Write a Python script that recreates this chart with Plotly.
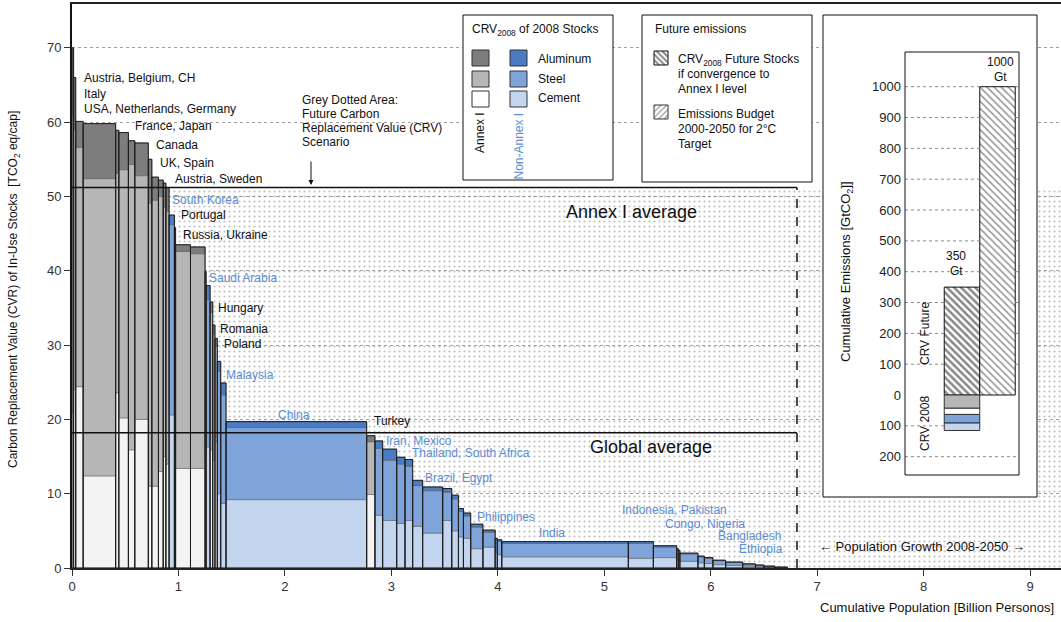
import numpy as np
import plotly.graph_objects as go

# ---------------------------------------------------------------- data
countries = ["Luxembourg", "Belgium, CH", "Italy", "USA", "Netherlands", "Germany", "France",
             "Japan", "Canada", "UK", "Spain", "Austria", "Sweden", "South Korea", "Portugal",
             "Russia", "Ukraine", "Czech Republic", "Saudi Arabia", "Hungary", "Romania", "Poland",
             "Argentina", "Malaysia", "China", "Turkey", "Iran", "Mexico", "Thailand",
             "South Africa", "Colombia", "Brazil", "Egypt", "Algeria", "Peru", "Morocco",
             "Philippines", "Vietnam", "Sri Lanka", "Uzbekistan", "India", "Indonesia",
             "Pakistan", "Kenya", "Sudan", "Nigeria", "Myanmar", "Tanzania", "Congo",
             "Bangladesh", "Uganda", "Ethiopia", "Nepal", "Others"]
annex_I = [1, 1, 1, 1, 1, 1, 1, 1, 1, 1, 1, 1, 1, 0, 1, 1, 1, 1, 0, 1, 1, 1, 0, 0, 0, 1,
           0, 0, 0, 0, 0, 0, 0, 0, 0, 0, 0, 0, 0, 0, 0, 0, 0, 0, 0, 0, 0, 0, 0, 0, 0, 0, 0, 0]
population = [0.015, 0.02, 0.07, 0.305, 0.03, 0.09, 0.06, 0.127, 0.033, 0.062, 0.045, 0.025,
              0.03, 0.05, 0.011, 0.14, 0.137, 0.01, 0.037, 0.025, 0.021, 0.022, 0.032, 0.05,
              1.321, 0.078, 0.072, 0.132, 0.078, 0.072, 0.094, 0.188, 0.085, 0.063, 0.047,
              0.068, 0.115, 0.115, 0.02, 0.042, 1.189, 0.235, 0.219, 0.015, 0.015, 0.17, 0.06,
              0.08, 0.12, 0.16, 0.12, 0.08, 0.10, 0.12]
cement = [21, 24, 24.4, 12.4, 23.6, 20.2, 15.9, 20.0, 11.0, 11.0, 13.0, 15.0, 14.0, 20.6, 17.0,
          13.4, 13.4, 15.0, 16.3, 15.9, 14.5, 17.0, 10.0, 8.7, 9.2, 9.9, 7.1, 6.4, 6.0, 6.4, 5.6,
          4.7, 6.4, 5.0, 4.2, 4.0, 2.6, 2.8, 2.0, 1.8, 1.5, 1.3, 1.4, 1.2, 1.1, 0.9, 0.7, 0.6,
          0.45, 0.35, 0.25, 0.18, 0.11, 0.05]
steel = [40, 35, 32.2, 40.0, 29.5, 33.4, 38.4, 32.8, 38.1, 38.5, 37.0, 33.6, 34.0, 25.6, 26.0,
         29.2, 28.9, 23.4, 19.8, 18.5, 17.0, 12.8, 16.5, 14.6, 9.7, 7.1, 9.0, 8.1, 8.0, 7.3, 5.5,
         5.7, 3.8, 4.3, 3.4, 3.0, 2.9, 2.0, 1.8, 1.8, 1.8, 2.0, 1.4, 1.3, 1.2, 1.0, 0.8, 0.7,
         0.55, 0.4, 0.27, 0.19, 0.12, 0.06]
aluminum = [9, 7, 3.5, 7.4, 5.8, 5.0, 3.2, 4.4, 5.9, 3.1, 2.2, 3.2, 3.2, 1.3, 2.8, 0.9, 0.9,
            1.5, 1.9, 1.4, 1.2, 1.1, 1.3, 1.6, 0.8, 0.8, 1.0, 1.5, 0.9, 0.9, 0.7, 0.5, 0.5,
            0.5, 0.4, 0.4, 0.4, 0.3, 0.2, 0.2, 0.25, 0.25, 0.2, 0.1, 0.1, 0.1, 0.1, 0.1, 0.05,
            0.05, 0.03, 0.03, 0.02, 0.01]

annex_average = 51.2
global_average = 18.2
population_2008 = 6.81
population_2050 = 9.29

y_ticks = [0, 10, 20, 30, 40, 50, 60, 70]
x_ticks = [0, 1, 2, 3, 4, 5, 6, 7, 8, 9]

# inset (cumulative emissions, GtCO2)
inset_ticks = [-200, -100, 0, 100, 200, 300, 400, 500, 600, 700, 800, 900, 1000]
inset_ticktext = ["200", "100", "0", "100", "200", "300", "400", "500", "600", "700", "800",
                  "900", "1000"]
crv_future = 350
emission_budget = 1000
crv2008_parts = ["Annex I aluminum+steel", "Annex I cement",
                 "Non-Annex I aluminum+steel", "Non-Annex I cement"]
crv2008_values = [43, 20, 28, 24]

# country labels (text, colour group, pixel position of label start)
label_text = ["Austria, Belgium, CH", "Italy", "USA, Netherlands, Germany", "France, Japan",
              "Canada", "UK, Spain", "Austria, Sweden", "South Korea", "Portugal",
              "Russia, Ukraine", "Saudi Arabia", "Hungary", "Romania", "Poland", "Malaysia",
              "China", "Turkey", "Iran, Mexico", "Thailand, South Africa", "Brazil, Egypt",
              "Philippines", "India", "Indonesia, Pakistan", "Congo, Nigeria", "Bangladesh",
              "Ethiopia"]
label_annex = [1, 1, 1, 1, 1, 1, 1, 0, 1, 1, 0, 1, 1, 1, 0, 0, 1, 0, 0, 0, 0, 0, 0, 0, 0, 0]
label_px = [(82, 78), (82, 94), (82, 109), (133, 126), (154, 145), (158, 163), (173, 179),
            (170, 200), (179, 215), (181, 235), (207, 278), (216, 308), (218, 329),
            (222, 344), (224, 375), (276, 415), (372, 421), (384, 441), (410, 453),
            (423, 478), (475, 517), (537, 533), (620, 510), (663, 524), (716, 536),
            (737, 549)]

# ---------------------------------------------------------------- style
FONT = "Liberation Sans, Arial, sans-serif"
A_COL = {"alu": "#7d7d7d", "steel": "#b6b6b6", "cem": "#f3f3f3"}
N_COL = {"alu": "#4a7bc3", "steel": "#7ea4da", "cem": "#c4d6ef"}
BLUE_TXT = "#5b8dd3"

L, R, T, B = 72, 1061, 4, 568


def PX(x):
    return (x - L) / (R - L)


def PY(y):
    return (B - y) / (B - T)


# ---------------------------------------------------------------- main bars
w = np.array(population)
right = np.cumsum(w)
left = right - w
mid = left + w / 2
cem = np.array(cement)
stl = np.array(steel)
alu = np.array(aluminum)
total = cem + stl + alu
is_a = np.array(annex_I) == 1


def cols(key):
    return [A_COL[key] if a else N_COL[key] for a in is_a]


fig = go.Figure()

# stippled scenario area
fig.add_trace(go.Bar(
    x=[population_2050 / 2], y=[annex_average], base=[0], width=[population_2050],
    marker=dict(color="rgba(0,0,0,0)", line=dict(width=0),
                pattern=dict(shape=".", fgcolor="#808080", size=5, solidity=0.15)),
    hoverinfo="skip"))

for vals, base, key in [(cem, np.zeros_like(cem), "cem"), (stl, cem, "steel"),
                        (alu, cem + stl, "alu")]:
    fig.add_trace(go.Bar(
        x=mid, y=vals, base=base, width=w, customdata=countries,
        marker=dict(color=cols(key), line=dict(color="#555555", width=0.5)),
        hovertemplate="%{customdata}<extra></extra>"))

fig.add_trace(go.Bar(
    x=mid, y=total, base=np.zeros_like(total), width=w,
    marker=dict(color="rgba(0,0,0,0)", line=dict(color="#1e1e1e", width=1)),
    hoverinfo="skip"))

# averages and 2008 population
fig.add_trace(go.Scatter(x=[0, population_2008], y=[annex_average] * 2, mode="lines",
                         line=dict(color="#111", width=1.5), hoverinfo="skip"))
fig.add_trace(go.Scatter(x=[0, population_2008], y=[global_average] * 2, mode="lines",
                         line=dict(color="#111", width=1.5), hoverinfo="skip"))
fig.add_trace(go.Scatter(x=[population_2008] * 2, y=[0, annex_average], mode="lines",
                         line=dict(color="#111", width=1.5, dash="dash"), hoverinfo="skip"))

# ---------------------------------------------------------------- inset (x2/y2)
Y2_RANGE = [-330.8, 1232.6]
X2_RANGE = [-3.915, 2.113]
IN_L, IN_R = -1.606, 1.606
# white panel (as a bar so that it lies beneath the inset bars)
fig.add_trace(go.Bar(
    x=[(X2_RANGE[0] + X2_RANGE[1]) / 2], y=[Y2_RANGE[1] - Y2_RANGE[0]], base=[Y2_RANGE[0]],
    width=[X2_RANGE[1] - X2_RANGE[0]], xaxis="x2", yaxis="y2",
    marker=dict(color="white", line=dict(width=0)), hoverinfo="skip"))
fig.add_trace(go.Bar(
    x=[0], y=[crv_future], base=[0], width=[1], xaxis="x2", yaxis="y2",
    marker=dict(color="white", line=dict(color="#111", width=1),
                pattern=dict(shape="\\", fgcolor="#111", bgcolor="white", size=5,
                             solidity=0.5)),
    hovertemplate="CRV future: %{y} Gt<extra></extra>"))
fig.add_trace(go.Bar(
    x=[1], y=[emission_budget], base=[0], width=[1], xaxis="x2", yaxis="y2",
    marker=dict(color="white", line=dict(color="#111", width=1),
                pattern=dict(shape="\\", fgcolor="#2a2a2a", bgcolor="white", size=5,
                             solidity=0.3)),
    hovertemplate="Budget: %{y} Gt<extra></extra>"))
crv_cols = [A_COL["steel"], "white", N_COL["steel"], N_COL["cem"]]
base = 0.0
for part, v, c in zip(crv2008_parts, crv2008_values, crv_cols):
    fig.add_trace(go.Bar(
        x=[0], y=[-v], base=[base], width=[1], xaxis="x2", yaxis="y2", name=part,
        marker=dict(color=c, line=dict(color="#333", width=1)),
        hovertemplate=part + ": %{y}<extra></extra>"))
    base -= v

# dotted gridlines of the inset, kept out of the bars
gx, gy = [], []
for t in inset_ticks:
    if t == 0:
        continue
    if -300 < t < 0 and t >= -sum(crv2008_values):
        segs = [(IN_L, -0.5)]
    elif t < 0:
        segs = [(IN_L, IN_R)]
    elif t <= crv_future:
        segs = [(IN_L, -0.5), (1.5, IN_R)]
    else:
        segs = [(IN_L, 0.5), (1.5, IN_R)]
    for a, b in segs:
        gx += [a, b, None]
        gy += [t, t, None]
fig.add_trace(go.Scatter(x=gx, y=gy, mode="lines", xaxis="x2", yaxis="y2",
                         line=dict(color="#8a8a8a", width=1, dash="dot"), hoverinfo="skip"))


# ---------------------------------------------------------------- legends (x3/y3, pixel space)
def rect(x0, y0, x1, y1, fill, line="#111", lw=1, pattern=None):
    kw = dict(x=[x0, x1, x1, x0, x0], y=[y0, y0, y1, y1, y0], fill="toself",
              fillcolor=fill, mode="lines", line=dict(color=line, width=lw),
              xaxis="x3", yaxis="y3", hoverinfo="skip")
    if pattern:
        kw["fillpattern"] = pattern
    fig.add_trace(go.Scatter(**kw))


rect(463, 15, 613, 180, "white")
rect(642, 15, 812, 182, "white")
for (y0, y1), key in zip([(50, 66), (71, 87), (91, 107)], ["alu", "steel", "cem"]):
    rect(472, y0, 489, y1, A_COL[key] if key != "cem" else "white", line="#333")
    rect(510, y0, 527, y1, N_COL[key], line="#333")
rect(654, 51, 668, 65, "white", line="#111",
     pattern=dict(shape="\\", fgcolor="#111", bgcolor="white", size=4, solidity=0.5))
rect(654, 105, 668, 119, "white", line="#333",
     pattern=dict(shape="/", fgcolor="#333", bgcolor="white", size=4, solidity=0.3))

# ---------------------------------------------------------------- annotations
ann = []


def text(t, x, y, size=12, color="#111", xanchor="left", angle=0, yanchor="middle"):
    ann.append(dict(text=t, x=PX(x), y=PY(y), xref="paper", yref="paper", showarrow=False,
                    xanchor=xanchor, yanchor=yanchor, textangle=angle,
                    font=dict(family=FONT, size=size, color=color)))


for t, a, (x, y) in zip(label_text, label_annex, label_px):
    text(t, x, y, color="#111" if a else BLUE_TXT)

for i, line in enumerate(["Grey Dotted Area:", "Future Carbon", "Replacement Value (CRV)",
                          "Scenario"]):
    text(line, 300, 100 + 14 * i)
ann.append(dict(x=PX(311), y=PY(185), xref="paper", yref="paper", text="", showarrow=True,
                ax=0, ay=-25, arrowhead=2, arrowsize=1, arrowwidth=1, arrowcolor="#111"))

text("Annex I average", 631, 212, size=18, xanchor="center")
text("Global average", 651, 447, size=18, xanchor="center")
text("\u2190 Population Growth 2008-2050 \u2192", 922, 546, size=13, xanchor="center")

# legend texts
text("CRV<sub>2008</sub> of 2008 Stocks", 470, 30)
text("Aluminum", 536, 59)
text("Steel", 536, 79)
text("Cement", 536, 98)
text("Annex I", 480, 133, angle=-90, xanchor="center")
text("Non-Annex I", 518.5, 146, angle=-90, xanchor="center", color=BLUE_TXT)
text("Future emissions", 653, 29)
text("CRV<sub>2008</sub> Future Stocks", 676, 60)
text("if convergence to", 676, 74)
text("Annex I level", 676, 89)
text("Emissions Budget", 676, 114)
text("2000-2050 for 2\u00b0C", 676, 129)
text("Target", 676, 144)

# inset texts
text("Cumulative Emissions [GtCO<sub>2</sub>]]", 846, 272, size=13, angle=-90,
     xanchor="center")
text("350", 956, 256, xanchor="center")
text("Gt", 956, 271, xanchor="center")
text("1000", 1000, 62, xanchor="center")
text("Gt", 1000, 77, xanchor="center")
text("CRV Future", 925, 334, angle=-90, xanchor="center")
text("CRV 2008", 925, 424, angle=-90, xanchor="center")

# axis titles
text("Carbon Replacement Value (CVR) of In-Use Stocks  [TCO<sub>2</sub> eq/cap]", 14, 290,
     angle=-90, xanchor="center")
text("Cumulative Population [Billion Personos]", 1056, 607, size=13, xanchor="right")

# ---------------------------------------------------------------- layout
fig.update_layout(
    width=1061, height=622, margin=dict(l=L, r=1061 - R, t=T, b=622 - B),
    paper_bgcolor="white", plot_bgcolor="rgba(0,0,0,0)", barmode="overlay",
    showlegend=False,
    font=dict(family=FONT, size=12, color="#222"),
    annotations=ann,
    xaxis=dict(domain=[0, 1], range=[0, population_2050], tickvals=x_ticks, ticks="outside",
               ticklen=6, tickcolor="#333", showline=True, linecolor="#222", linewidth=1.5,
               mirror=True, showgrid=False, zeroline=False, anchor="y",
               tickfont=dict(size=13, color="#333")),
    yaxis=dict(domain=[0, 1], range=[0, 75.9], tickvals=y_ticks, ticks="outside", ticklen=6,
               tickcolor="#333", showline=True, linecolor="#111", linewidth=2, showgrid=True,
               gridcolor="#a0a0a0", griddash="dot", gridwidth=1, zeroline=False, anchor="x",
               tickfont=dict(size=13, color="#333")),
    xaxis2=dict(domain=[PX(823), PX(1037)], range=X2_RANGE, visible=False, anchor="y2"),
    yaxis2=dict(domain=[PY(497), PY(15)], range=Y2_RANGE, anchor="free", position=PX(905),
                tickvals=inset_ticks, ticktext=inset_ticktext, ticks="", showline=False,
                showgrid=False, zeroline=False, ticklabelstandoff=4,
                tickfont=dict(size=13, color="#222")),
    xaxis3=dict(domain=[0, 1], range=[L, R], visible=False, anchor="y3"),
    yaxis3=dict(domain=[0, 1], range=[B, T], visible=False, anchor="x3"),
    shapes=[
        dict(type="rect", xref="paper", yref="paper", x0=PX(823), x1=PX(1037), y0=PY(497),
             y1=PY(15), line=dict(color="#111", width=1), fillcolor="rgba(0,0,0,0)",
             layer="above"),
        dict(type="rect", xref="paper", yref="paper", x0=PX(905), x1=PX(1019), y0=PY(475),
             y1=PY(52), line=dict(color="#111", width=1), fillcolor="rgba(0,0,0,0)",
             layer="above"),
    ],
)

fig.write_html("out.html", config={"displayModeBar": False},
               post_script="document.body.style.margin='0';"
                           "document.body.style.overflow='hidden';")
